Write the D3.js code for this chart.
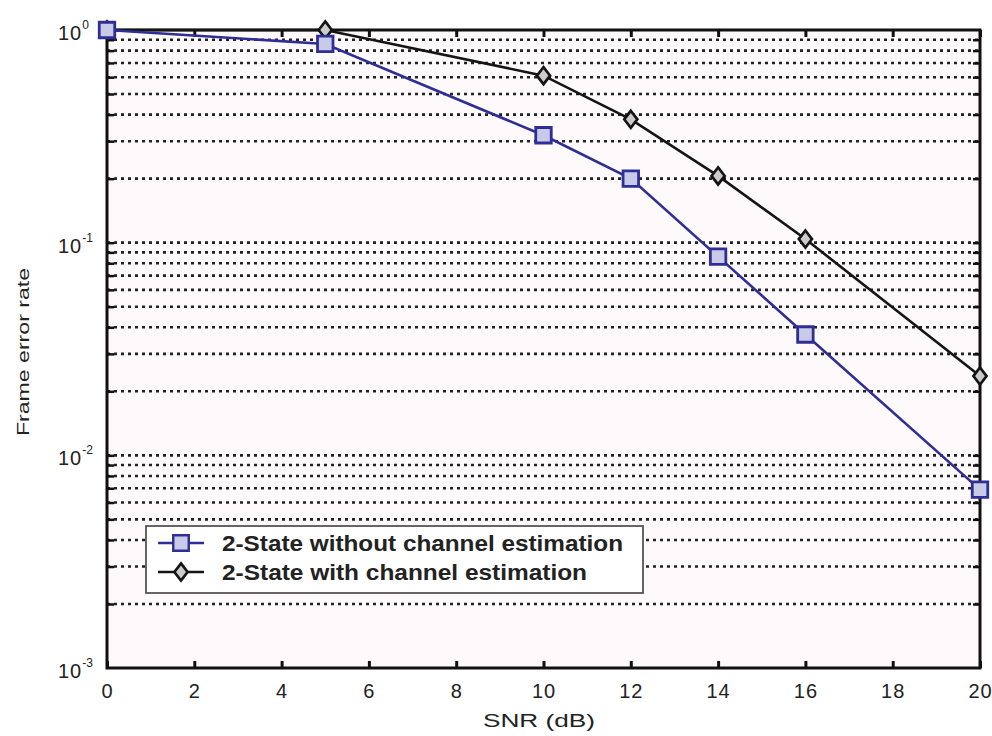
<!DOCTYPE html>
<html>
<head>
<meta charset="utf-8">
<script src="https://cdn.jsdelivr.net/npm/d3@7"></script>
<style>
  html, body { margin: 0; padding: 0; background: #fff; }
  svg { display: block; }
  text { font-family: "Liberation Sans", Arial, sans-serif; fill: #222; }
</style>
</head>
<body>
<svg id="chart" width="992" height="736"></svg>
<script>
// ---- data ----
const snr = [0, 5, 10, 12, 14, 16, 20];
const ferWithout = [1.0, 0.86, 0.32, 0.2, 0.086, 0.037, 0.0069];
const ferWith = [1.0, 1.0, 0.61, 0.38, 0.206, 0.104, 0.0236];
const seriesNames = ["2-State without channel estimation", "2-State with channel estimation"];
const xTicks = [0, 2, 4, 6, 8, 10, 12, 14, 16, 18, 20];
const yDecades = [0, -1, -2, -3];

(function () {
// ---- layout ----
const W = 992, H = 736;
const m = { left: 107, right: 12, top: 30, bottom: 68 };
const svg = d3.select("#chart");
const x = d3.scaleLinear().domain([0, 20]).range([m.left, W - m.right]);
const y = d3.scaleLog().domain([1e-3, 1]).range([H - m.bottom, m.top]);
const font = "Liberation Sans, Arial, sans-serif";

// background
svg.append("rect").attr("x", m.left).attr("y", m.top)
  .attr("width", x(20) - x(0)).attr("height", y(1e-3) - y(1))
  .attr("fill", "#fefafc");

// horizontal dotted grid (minor + major)
const gridVals = [];
for (let k = -3; k < 0; k++) for (let j = 1; j <= 9; j++) {
  const v = j * Math.pow(10, k);
  if (v > 1e-3) gridVals.push(v);
}
svg.append("g").selectAll("line").data(gridVals).join("line")
  .attr("x1", x(0)).attr("x2", x(20))
  .attr("y1", d => y(d)).attr("y2", d => y(d))
  .attr("stroke", "#222").attr("stroke-width", 2.6)
  .attr("stroke-dasharray", "3,4");

// axes box
svg.append("rect").attr("x", x(0)).attr("y", y(1))
  .attr("width", x(20) - x(0)).attr("height", y(1e-3) - y(1))
  .attr("fill", "none").attr("stroke", "#111").attr("stroke-width", 3);

// y minor ticks (left & right, inward)
const axL = d3.axisLeft(y).tickValues(gridVals).tickSize(-7).tickFormat("");
const gl = svg.append("g").attr("transform", `translate(${x(0)},0)`).call(axL);
gl.select(".domain").remove();
gl.selectAll(".tick line").attr("stroke", "#111").attr("stroke-width", 2.5);
const axR = d3.axisRight(y).tickValues(gridVals).tickSize(-7).tickFormat("");
const gr = svg.append("g").attr("transform", `translate(${x(20)},0)`).call(axR);
gr.select(".domain").remove();
gr.selectAll(".tick line").attr("stroke", "#111").attr("stroke-width", 2.5);

// x ticks (bottom & top, inward)
const axB = d3.axisBottom(x).tickValues(xTicks).tickSize(-7).tickFormat(d3.format("d")).tickPadding(16);
const gb = svg.append("g").attr("transform", `translate(0,${y(1e-3)})`).call(axB);
gb.select(".domain").remove();
gb.selectAll(".tick line").attr("stroke", "#111").attr("stroke-width", 3);
gb.selectAll(".tick text").attr("font-size", 20).attr("fill", "#333").attr("font-family", font)
  .attr("letter-spacing", 1);

const axT = d3.axisTop(x).tickValues(xTicks).tickSize(-7).tickFormat("");
const gt = svg.append("g").attr("transform", `translate(0,${y(1)})`).call(axT);
gt.select(".domain").remove();
gt.selectAll(".tick line").attr("stroke", "#111").attr("stroke-width", 3);

// y tick labels
const yl = svg.append("g").selectAll("text").data(yDecades).join("text")
  .attr("x", 58).attr("y", d => y(Math.pow(10, d)) + 10)
  .attr("text-anchor", "start").attr("font-size", 20).attr("fill", "#333")
  .attr("letter-spacing", 1);
yl.append("tspan").text("10");
yl.append("tspan").attr("dy", -11).attr("font-size", 12).attr("letter-spacing", 0).text(d => d);

// axis labels
svg.append("text").attr("x", 539).attr("y", 727)
  .attr("text-anchor", "middle").attr("font-size", 19).attr("fill", "#333")
  .attr("textLength", 112).attr("lengthAdjust", "spacingAndGlyphs").text("SNR (dB)");
svg.append("text").attr("transform", `translate(29,352) rotate(-90)`)
  .attr("text-anchor", "middle").attr("font-size", 17).attr("fill", "#333")
  .attr("textLength", 168).attr("lengthAdjust", "spacingAndGlyphs").text("Frame error rate");

// series
const blue = "#2e2e96", black = "#151515";
const line = d3.line().x(d => x(d[0])).y(d => y(d[1]));
const dWithout = snr.map((s, i) => [s, ferWithout[i]]);
const dWith = snr.map((s, i) => [s, ferWith[i]]);

svg.append("path").datum(dWith).attr("d", line).attr("fill", "none")
  .attr("stroke", black).attr("stroke-width", 2.6);
svg.append("path").datum(dWithout).attr("d", line).attr("fill", "none")
  .attr("stroke", blue).attr("stroke-width", 2.6);

const sq = d3.symbol().type(d3.symbolSquare).size(240);
const dia = d3.symbol().type(d3.symbolDiamond2).size(110);
svg.append("g").selectAll("path").data(dWith).join("path")
  .attr("transform", d => `translate(${x(d[0])},${y(d[1])}) scale(1,1.3)`)
  .attr("d", dia).attr("fill", "#ccc").attr("stroke", black).attr("stroke-width", 2.4);
svg.append("g").selectAll("path").data(dWithout).join("path")
  .attr("transform", d => `translate(${x(d[0])},${y(d[1])})`)
  .attr("d", sq).attr("fill", "#c9c9e8").attr("stroke", blue).attr("stroke-width", 2.8);

// legend
const lg = svg.append("g");
lg.append("rect").attr("x", 146).attr("y", 526).attr("width", 497).attr("height", 67)
  .attr("fill", "#fff").attr("stroke", "#555").attr("stroke-width", 1.8);
const rows = [
  { name: seriesNames[0], color: blue, sym: sq, sc: "", fill: "#c9c9e8", len: 401 },
  { name: seriesNames[1], color: black, sym: dia, sc: " scale(1,1.3)", fill: "#ccc", len: 365 }
];
rows.forEach((r, i) => {
  const yy = 543 + i * 29;
  lg.append("line").attr("x1", 158).attr("x2", 204).attr("y1", yy).attr("y2", yy)
    .attr("stroke", r.color).attr("stroke-width", 2.6);
  lg.append("path").attr("transform", `translate(181,${yy})${r.sc}`).attr("d", r.sym)
    .attr("fill", r.fill).attr("stroke", r.color).attr("stroke-width", 2.4);
  lg.append("text").attr("x", 222).attr("y", yy + 8).attr("font-size", 22)
    .attr("font-weight", "bold").attr("fill", "#333")
    .attr("textLength", r.len).attr("lengthAdjust", "spacingAndGlyphs").text(r.name);
});
})();
</script>
</body>
</html>
